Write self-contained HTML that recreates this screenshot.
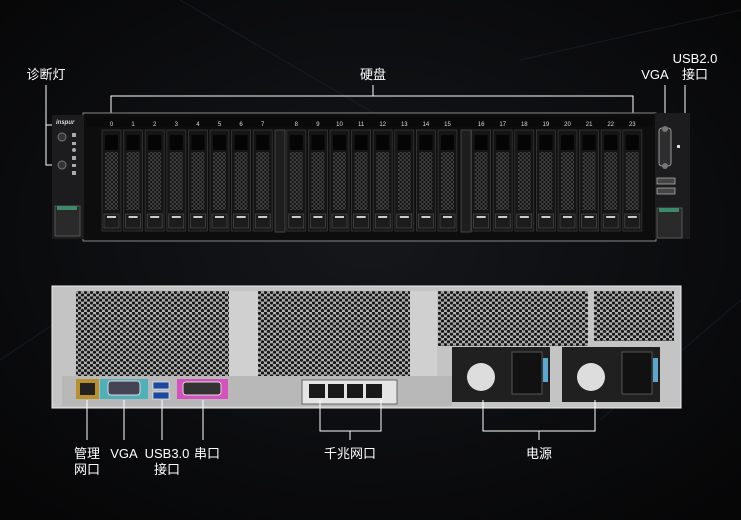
<!DOCTYPE html>
<html><head><meta charset="utf-8"><style>
html,body{margin:0;padding:0;background:#070708;}
svg{display:block}
text{font-family:"Liberation Sans","Noto Sans CJK SC",sans-serif;}
</style></head><body>
<svg width="741" height="520" viewBox="0 0 741 520" xmlns="http://www.w3.org/2000/svg">
<defs>
<radialGradient id="bg" cx="0.5" cy="0.45" r="0.7"><stop offset="0" stop-color="#15171b"/><stop offset="1" stop-color="#060607"/></radialGradient>
<pattern id="hex" width="6" height="5.2" patternUnits="userSpaceOnUse">
<rect width="6" height="5.2" fill="#b0b0b0"/>
<circle cx="1.5" cy="1.3" r="1.6" fill="#161616"/><circle cx="4.5" cy="3.9" r="1.6" fill="#161616"/>
</pattern>
<pattern id="mesh" width="4" height="4" patternUnits="userSpaceOnUse">
<rect width="4" height="4" fill="#0c0c0c"/><path d="M0 0L4 4M4 0L0 4" stroke="#4a4a4a" stroke-width="0.8"/>
</pattern>
<g id="bay">
<rect x="0" y="0" width="19" height="101" fill="#151515" stroke="#3a3a3a" stroke-width="0.8"/>
<rect x="3" y="5" width="13" height="15" fill="#050505"/>
<rect x="3" y="22" width="13" height="58" fill="url(#mesh)"/>
<rect x="2" y="84" width="15" height="14" fill="#1c1c1c" stroke="#555" stroke-width="0.6"/>
<rect x="5" y="86" width="9" height="2" fill="#ccc"/>
</g>
</defs>
<rect width="741" height="520" fill="url(#bg)"/>
<path d="M180 0L420 140M520 60L741 10M600 420L741 300M0 360L90 300" stroke="#1c2128" stroke-width="1" opacity="0.7"/>

<!-- FRONT -->
<text x="46" y="79" font-size="13" fill="#fff" text-anchor="middle">诊断灯</text>
<text x="373" y="79" font-size="13" fill="#fff" text-anchor="middle">硬盘</text>
<text x="655" y="79" font-size="13" fill="#fff" text-anchor="middle">VGA</text>
<text x="695" y="63" font-size="13" fill="#fff" text-anchor="middle">USB2.0</text>
<text x="695" y="79" font-size="13" fill="#fff" text-anchor="middle">接口</text>
<g stroke="#fff" stroke-width="1" fill="none">
<path d="M46 85V165H60M46 125H60"/>
<path d="M111 113V96H633V113M373 96V85"/>
<path d="M665 85V125"/>
<path d="M685 85V185H673M685 170H673"/>
</g>
<rect x="83" y="113" width="573" height="128" fill="#0d0d0d" stroke="#888" stroke-width="1"/>
<rect x="86" y="117" width="567" height="10" fill="#0a0a0a"/>
<rect x="52" y="115" width="32" height="124" fill="#1c1c1e"/>
<text x="56" y="124" font-size="6" fill="#ddd" font-style="italic" font-weight="bold">inspur</text>
<circle cx="62" cy="137" r="4" fill="#333" stroke="#777"/>
<circle cx="62" cy="165" r="4" fill="#333" stroke="#777"/>
<g fill="#aaa"><rect x="72" y="133" width="4" height="4"/><rect x="72" y="142" width="4" height="3"/><circle cx="74" cy="150" r="2"/><rect x="72" y="156" width="4" height="4"/><rect x="72" y="164" width="4" height="3"/><rect x="72" y="171" width="4" height="4"/></g>
<rect x="55" y="206" width="25" height="30" fill="#2a2a2a" stroke="#555"/>
<rect x="57" y="206" width="20" height="4" fill="#3c8a6a"/>
<rect x="655" y="113" width="35" height="126" fill="#1c1c1e"/>
<rect x="659" y="128" width="12" height="38" rx="3" fill="#2e2e2e" stroke="#999"/>
<circle cx="665" cy="129" r="3" fill="#777"/><circle cx="665" cy="166" r="3" fill="#777"/>
<rect x="677" y="145" width="3" height="3" fill="#ddd"/>
<rect x="657" y="178" width="18" height="6" fill="#444" stroke="#bbb" stroke-width="0.7"/>
<rect x="657" y="188" width="18" height="6" fill="#444" stroke="#bbb" stroke-width="0.7"/>
<rect x="657" y="208" width="25" height="30" fill="#2a2a2a" stroke="#555"/>
<rect x="659" y="208" width="20" height="4" fill="#3c8a6a"/>
<rect x="275" y="130" width="10" height="102" fill="#1e1e1e" stroke="#444"/>
<rect x="461" y="130" width="10" height="102" fill="#1e1e1e" stroke="#444"/>
<g>
<use href="#bay" x="102" y="130"/><use href="#bay" x="123.6" y="130"/><use href="#bay" x="145.2" y="130"/><use href="#bay" x="166.8" y="130"/><use href="#bay" x="188.4" y="130"/><use href="#bay" x="210" y="130"/><use href="#bay" x="231.6" y="130"/><use href="#bay" x="253.2" y="130"/>
<use href="#bay" x="286.8" y="130"/><use href="#bay" x="308.4" y="130"/><use href="#bay" x="330" y="130"/><use href="#bay" x="351.6" y="130"/><use href="#bay" x="373.2" y="130"/><use href="#bay" x="394.8" y="130"/><use href="#bay" x="416.4" y="130"/><use href="#bay" x="438" y="130"/>
<use href="#bay" x="471.6" y="130"/><use href="#bay" x="493.2" y="130"/><use href="#bay" x="514.8" y="130"/><use href="#bay" x="536.4" y="130"/><use href="#bay" x="558" y="130"/><use href="#bay" x="579.6" y="130"/><use href="#bay" x="601.2" y="130"/><use href="#bay" x="622.8" y="130"/>
</g>
<g font-size="6" fill="#ddd" text-anchor="middle">
<text x="111.5" y="126">0</text><text x="133.1" y="126">1</text><text x="154.7" y="126">2</text><text x="176.3" y="126">3</text><text x="197.9" y="126">4</text><text x="219.5" y="126">5</text><text x="241.1" y="126">6</text><text x="262.7" y="126">7</text>
<text x="296.3" y="126">8</text><text x="317.9" y="126">9</text><text x="339.5" y="126">10</text><text x="361.1" y="126">11</text><text x="382.7" y="126">12</text><text x="404.3" y="126">13</text><text x="425.9" y="126">14</text><text x="447.5" y="126">15</text>
<text x="481.1" y="126">16</text><text x="502.7" y="126">17</text><text x="524.3" y="126">18</text><text x="545.9" y="126">19</text><text x="567.5" y="126">20</text><text x="589.1" y="126">21</text><text x="610.7" y="126">22</text><text x="632.3" y="126">23</text>
</g>

<!-- REAR -->
<rect x="52" y="286" width="629" height="122" fill="#c4c4c4" stroke="#eee"/>
<rect x="76" y="291" width="153" height="85" fill="url(#hex)"/>
<rect x="229" y="291" width="29" height="85" fill="#d0d0d0"/>
<rect x="258" y="291" width="152" height="85" fill="url(#hex)"/>
<rect x="410" y="291" width="27" height="85" fill="#d0d0d0"/>
<rect x="438" y="291" width="150" height="55" fill="url(#hex)"/>
<rect x="594" y="291" width="80" height="50" fill="url(#hex)"/>
<rect x="62" y="376" width="390" height="30" fill="#b8b8b8"/>
<rect x="76" y="379" width="23" height="20" fill="#b8902e"/>
<rect x="80" y="383" width="15" height="12" fill="#222"/>
<rect x="100" y="379" width="48" height="20" fill="#4eb0b8"/>
<rect x="108" y="381" width="32" height="14" rx="3" fill="#445" stroke="#ddd"/>
<rect x="153" y="382" width="16" height="7" fill="#1a4aa0" stroke="#eee" stroke-width="0.7"/>
<rect x="153" y="392" width="16" height="7" fill="#1a4aa0" stroke="#eee" stroke-width="0.7"/>
<rect x="177" y="379" width="51" height="20" fill="#d84fc0"/>
<rect x="183" y="382" width="38" height="13" rx="3" fill="#333" stroke="#ddd"/>
<rect x="302" y="380" width="95" height="24" fill="#e4e4e4" stroke="#666"/>
<rect x="309" y="384" width="16" height="14" fill="#1a1a1a"/><rect x="328" y="384" width="16" height="14" fill="#1a1a1a"/><rect x="347" y="384" width="16" height="14" fill="#1a1a1a"/><rect x="366" y="384" width="16" height="14" fill="#1a1a1a"/>
<rect x="452" y="347" width="98" height="55" fill="#202020"/>
<rect x="562" y="347" width="98" height="55" fill="#202020"/>
<circle cx="481" cy="377" r="14" fill="#ddd"/><circle cx="591" cy="377" r="14" fill="#ddd"/>
<rect x="512" y="352" width="30" height="42" fill="#111" stroke="#555"/>
<rect x="622" y="352" width="30" height="42" fill="#111" stroke="#555"/>
<rect x="543" y="358" width="5" height="24" fill="#5aa8d0"/><rect x="653" y="358" width="5" height="24" fill="#5aa8d0"/>

<g stroke="#fff" stroke-width="1" fill="none">
<path d="M87 400V440M124 400V440M162 400V440M203 400V440"/>
<path d="M320 400V431H381V400M350 431V440"/>
<path d="M483 400V431H595V400M539 431V440"/>
</g>
<g font-size="13" fill="#fff" text-anchor="middle">
<text x="87" y="458">管理</text><text x="87" y="474">网口</text>
<text x="124" y="458">VGA</text>
<text x="167" y="458">USB3.0</text><text x="167" y="474">接口</text>
<text x="207" y="458">串口</text>
<text x="350" y="458">千兆网口</text>
<text x="539" y="458">电源</text>
</g>
</svg>
</body></html>
